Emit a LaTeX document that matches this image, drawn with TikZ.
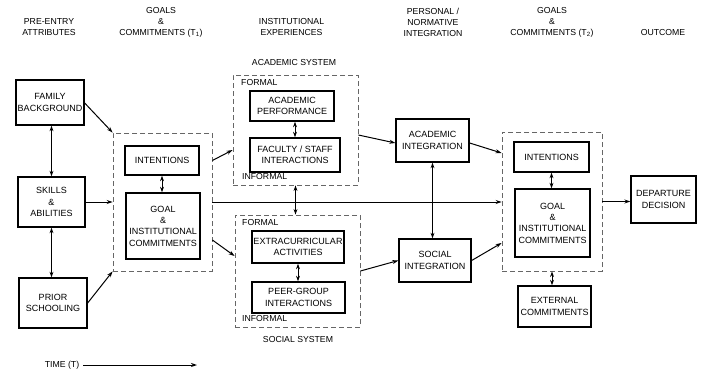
\documentclass[tikz,border=0pt]{standalone}
\usepackage{fontspec}
\setmainfont{Liberation Sans}
\usetikzlibrary{arrows.meta}
\begin{document}
\begin{tikzpicture}[x=1pt,y=-1pt,
  every node/.style={font=\fontsize{8.7}{11}\selectfont, align=center, inner sep=0pt},
  bx/.style={draw, line width=1.3pt, font=\fontsize{9}{11.3}\selectfont},
  dbox/.style={draw=black!60, dash pattern=on 5pt off 3pt, line width=0.8pt},
  arr/.style={-{Stealth[length=6pt,width=4pt]}, line width=1pt},
  darr/.style={{Stealth[length=5.5pt,width=3.8pt]}-{Stealth[length=5.5pt,width=3.8pt]}, line width=1pt},
  lbl/.style={anchor=west}]
\useasboundingbox (0,0) rectangle (701,372);
\fill[white] (0,0) rectangle (701,372);

% headers
\node (h1) at (49,27) {PRE-ENTRY\\ATTRIBUTES};
\node (h2) at (161,22) {GOALS\\\&\\COMMITMENTS (T\textsubscript{1})};
\node (h3) at (291.5,27) {INSTITUTIONAL\\EXPERIENCES};
\node (h4) at (433,22) {PERSONAL /\\NORMATIVE\\INTEGRATION};
\node (h5) at (552,22) {GOALS\\\&\\COMMITMENTS (T\textsubscript{2})};
\node (h6) at (663,33) {OUTCOME};

% dashed containers
\node[dbox, minimum width=99pt, minimum height=138pt] (t1) at (162.5,202) {};
\node[dbox, minimum width=125pt, minimum height=110pt] (acad) at (295.5,130) {};
\node[dbox, minimum width=125pt, minimum height=112pt] (soc) at (297.5,271) {};
\node[dbox, minimum width=100pt, minimum height=139pt] (t2) at (552,201.5) {};

% pre-entry
\node[bx, minimum width=68pt, minimum height=45pt] (fb) at (50,102.5) {FAMILY\\BACKGROUND};
\node[bx, minimum width=67pt, minimum height=50pt] (sk) at (51.5,202) {SKILLS\\\&\\ABILITIES};
\node[bx, minimum width=68pt, minimum height=50pt] (ps) at (53,303) {PRIOR\\SCHOOLING};

% goals T1
\node[bx, minimum width=74pt, minimum height=29pt] (int1) at (162,160.5) {INTENTIONS};
\node[bx, minimum width=74pt, minimum height=66pt] (goal1) at (163,226) {GOAL\\\&\\INSTITUTIONAL\\COMMITMENTS};

% academic system
\node (asys) at (294,63) {ACADEMIC SYSTEM};
\node[lbl] (af) at (241,83) {FORMAL};
\node[lbl] (ai0) at (242,177) {INFORMAL};
\node[bx, minimum width=84pt, minimum height=30pt] (ap) at (292,106) {ACADEMIC\\PERFORMANCE};
\node[bx, minimum width=90pt, minimum height=34pt] (fs) at (295,155) {FACULTY / STAFF\\INTERACTIONS};

% social system
\node (ssys) at (298,340) {SOCIAL SYSTEM};
\node[lbl] (sf) at (242,223) {FORMAL};
\node[lbl] (si0) at (242,319) {INFORMAL};
\node[bx, minimum width=92pt, minimum height=32pt] (ex) at (298,247) {EXTRACURRICULAR\\ACTIVITIES};
\node[bx, minimum width=93pt, minimum height=31pt] (pg) at (298.5,297.5) {PEER-GROUP\\INTERACTIONS};

% integration
\node[bx, minimum width=73pt, minimum height=43pt] (ai) at (432.5,140.5) {ACADEMIC\\INTEGRATION};
\node[bx, minimum width=72pt, minimum height=43pt] (si) at (435,260.5) {SOCIAL\\INTEGRATION};

% goals T2
\node[bx, minimum width=75pt, minimum height=30pt] (int2) at (551.5,157) {INTENTIONS};
\node[bx, minimum width=75pt, minimum height=68pt] (goal2) at (552.5,223) {GOAL\\\&\\INSTITUTIONAL\\COMMITMENTS};
\node[bx, minimum width=73pt, minimum height=41pt] (ext) at (554.5,306.5) {EXTERNAL\\COMMITMENTS};

% outcome
\node[bx, minimum width=65pt, minimum height=47pt] (dd) at (663.5,199.5) {DEPARTURE\\DECISION};

% time
\node (time) at (62,365) {TIME (T)};
\coordinate (te) at (197,365);

% connectors
\draw[darr] (fb.south -| sk.north) -- (sk.north);
\draw[darr] (sk.south) -- (sk.south |- ps.north);
\draw[arr] ([yshift=-0.5pt]fb.east) -- (t1.north west);
\draw[arr] (sk.east) -- (sk.east -| t1.west);
\draw[arr] (ps.east) -- (t1.south west);
\draw[darr] (int1.south) -- (int1.south |- goal1.north);

\draw[arr] (t1.east |- int1.center) -- ([yshift=-20pt]acad.west);
\draw[arr] ([yshift=-38pt]t1.east) -- ([yshift=15pt]soc.west);
\draw[arr] (t1.east) -- (t1.east -| t2.west);

\draw[darr] (ap.south -| fs.north) -- (fs.north);
\draw[darr] (ex.south) -- (ex.south |- pg.north);
\draw[darr] (acad.south) -- (acad.south |- soc.north);

\draw[arr] ([yshift=-5pt]acad.east) -- ([yshift=-2.5pt]ai.west);
\draw[arr] (soc.east) -- (si.west);
\draw[darr] (ai.south) -- (ai.south |- si.north);

\draw[arr] ([yshift=-2.5pt]ai.east) -- ([yshift=48.5pt]t2.west);
\draw[arr] (si.east) -- ([yshift=-41.5pt]t2.west);

\draw[darr] (int2.south) -- (int2.south |- goal2.north);
\draw[darr] (t2.south) -- (t2.south |- ext.north);
\draw[arr] (t2.east) -- (t2.east -| dd.west);

\draw[arr] ([xshift=4pt]time.east) -- (te);
\end{tikzpicture}
\end{document}
